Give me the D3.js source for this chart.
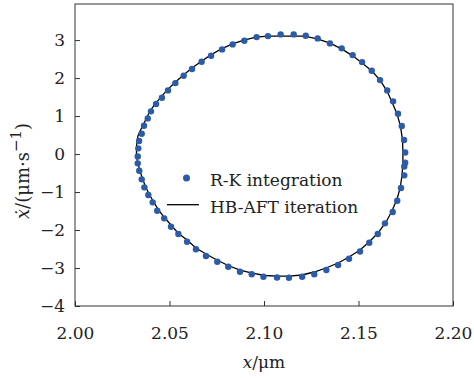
<!DOCTYPE html>
<html>
<head>
<meta charset="utf-8">
<script src="https://cdn.jsdelivr.net/npm/d3@7"></script>
<style>
  body { margin: 0; background: #fff; }
</style>
</head>
<body>
<div id="chart"></div>
<script>
// R-K integration samples (x in um, xdot in um/s)
const rkX = [2.0340, 2.0332, 2.0332, 2.0335, 2.0339, 2.0353, 2.0365, 2.0385, 2.0402, 2.0429,
  2.0460, 2.0492, 2.0531, 2.0575, 2.0619, 2.0670, 2.0720, 2.0778, 2.0834, 2.0896,
  2.0961, 2.1021, 2.1088, 2.1157, 2.1221, 2.1284, 2.1349, 2.1411, 2.1469, 2.1519,
  2.1570, 2.1614, 2.1652, 2.1683, 2.1709, 2.1729, 2.1741, 2.1747, 2.1747, 2.1742,
  2.1742, 2.1725, 2.1705, 2.1681, 2.1640, 2.1602, 2.1557, 2.1508, 2.1450, 2.1392,
  2.1330, 2.1266, 2.1202, 2.1132, 2.1069, 2.0997, 2.0935, 2.0873, 2.0811, 2.0753,
  2.0693, 2.0640, 2.0593, 2.0547, 2.0508, 2.0472, 2.0435, 2.0411, 2.0388, 2.0367,
  2.0353];
const rkV = [-0.439, -0.245, -0.066, 0.150, 0.342, 0.534, 0.745, 0.939, 1.124, 1.316,
  1.482, 1.676, 1.868, 2.061, 2.237, 2.429, 2.587, 2.755, 2.887, 2.982,
  3.079, 3.105, 3.150, 3.150, 3.113, 3.045, 2.913, 2.782, 2.605, 2.421,
  2.192, 1.947, 1.676, 1.387, 1.061, 0.737, 0.368, 0.039, -0.229, -0.329,
  -0.561, -0.895, -1.229, -1.526, -1.824, -2.105, -2.334, -2.566, -2.758, -2.921,
  -3.053, -3.163, -3.229, -3.255, -3.250, -3.229, -3.166, -3.097, -2.966, -2.834,
  -2.684, -2.508, -2.308, -2.105, -1.913, -1.692, -1.492, -1.271, -1.079, -0.876,
  -0.666];

// HB-AFT iteration orbit
const hbX = [2.0325, 2.0326, 2.0333, 2.0347, 2.0360, 2.0378, 2.0397, 2.0423, 2.0455, 2.0487,
  2.0526, 2.0571, 2.0616, 2.0667, 2.0717, 2.0775, 2.0833, 2.0894, 2.0958, 2.1021,
  2.1085, 2.1153, 2.1217, 2.1286, 2.1349, 2.1413, 2.1471, 2.1519, 2.1571, 2.1614,
  2.1651, 2.1677, 2.1704, 2.1722, 2.1733, 2.1735, 2.1735, 2.1730, 2.1720, 2.1704,
  2.1677, 2.1646, 2.1603, 2.1556, 2.1508, 2.1450, 2.1392, 2.1328, 2.1265, 2.1201,
  2.1132, 2.1069, 2.1005, 2.0937, 2.0873, 2.0810, 2.0751, 2.0693, 2.0640, 2.0593,
  2.0545, 2.0508, 2.0471, 2.0439, 2.0413, 2.0389, 2.0370, 2.0354, 2.0341, 2.0331];
const hbV = [-0.053, 0.237, 0.474, 0.632, 0.750, 0.947, 1.132, 1.316, 1.500, 1.684,
  1.868, 2.066, 2.250, 2.434, 2.605, 2.771, 2.900, 3.000, 3.079, 3.105,
  3.105, 3.105, 3.105, 3.026, 2.921, 2.763, 2.579, 2.395, 2.184, 1.947,
  1.658, 1.368, 1.053, 0.737, 0.368, 0.053, -0.237, -0.579, -0.895, -1.184,
  -1.500, -1.789, -2.079, -2.316, -2.526, -2.711, -2.868, -3.000, -3.105, -3.184,
  -3.211, -3.211, -3.197, -3.132, -3.053, -2.934, -2.789, -2.632, -2.474, -2.263,
  -2.079, -1.868, -1.658, -1.447, -1.237, -1.026, -0.816, -0.605, -0.395, -0.211];

const xTicks = [2.00, 2.05, 2.10, 2.15, 2.20];
const yTicks = [-4, -3, -2, -1, 0, 1, 2, 3];
const legendLabels = ["R-K integration", "HB-AFT iteration"];

const W = 474, H = 378;
const margin = { top: 4, right: 21, bottom: 72, left: 75 };
const iw = W - margin.left - margin.right;
const ih = H - margin.top - margin.bottom;
const dotColor = "#2c5ba8";
const serif = "DejaVu Serif";
const fs = 17;

const svg = d3.select("#chart").append("svg")
  .attr("width", W)
  .attr("height", H)
  .attr("font-family", serif);

const g = svg.append("g")
  .attr("transform", `translate(${margin.left},${margin.top})`);

const x = d3.scaleLinear().domain([2.00, 2.20]).range([0, iw]);
const y = d3.scaleLinear().domain([-4, 3.95]).range([ih, 0]);

// axes with inward ticks
const xAxis = g.append("g")
  .attr("transform", `translate(0,${ih})`)
  .call(d3.axisBottom(x).tickValues(xTicks).tickFormat(d3.format(".2f"))
    .tickSize(-5).tickPadding(21));
const yAxis = g.append("g")
  .call(d3.axisLeft(y).tickValues(yTicks).tickFormat(d3.format("d"))
    .tickSize(-5).tickPadding(10));

[xAxis, yAxis].forEach(a => {
  a.attr("font-family", serif).attr("font-size", fs);
  a.select(".domain").remove();
  a.selectAll("line").attr("stroke", "#333");
  a.selectAll("text").attr("fill", "#222");
});

// frame
g.append("rect")
  .attr("x", 0).attr("y", 0)
  .attr("width", iw).attr("height", ih)
  .attr("fill", "none")
  .attr("stroke", "#333")
  .attr("stroke-width", 1);

// HB-AFT line
const line = d3.line()
  .x(d => x(d[0]))
  .y(d => y(d[1]))
  .curve(d3.curveLinearClosed);

g.append("path")
  .datum(d3.zip(hbX, hbV))
  .attr("fill", "none")
  .attr("stroke", "#000")
  .attr("stroke-width", 1.3)
  .attr("d", line);

// R-K dots
g.append("g")
  .selectAll("circle")
  .data(d3.zip(rkX, rkV))
  .join("circle")
  .attr("cx", d => x(d[0]))
  .attr("cy", d => y(d[1]))
  .attr("r", 3.2)
  .attr("fill", dotColor);

// legend
const lg = svg.append("g").attr("transform", "translate(167,178)");
lg.append("circle")
  .attr("cx", 19.5).attr("cy", 0).attr("r", 3.5)
  .attr("fill", dotColor);
lg.append("line")
  .attr("x1", 0).attr("x2", 32)
  .attr("y1", 26.7).attr("y2", 26.7)
  .attr("stroke", "#000").attr("stroke-width", 1.3);
lg.selectAll("text.leg")
  .data(legendLabels)
  .join("text")
  .attr("class", "leg")
  .attr("x", 43)
  .attr("y", (d, i) => 8 + i * 26.7)
  .attr("font-size", fs)
  .attr("fill", "#222")
  .text(d => d);

// axis titles
const xt = svg.append("text")
  .attr("x", margin.left + iw / 2)
  .attr("y", 368)
  .attr("text-anchor", "middle")
  .attr("font-size", fs)
  .attr("fill", "#222");
xt.append("tspan").attr("font-style", "italic").text("x");
xt.append("tspan").text("/μm");

const yt = svg.append("text")
  .attr("transform", `translate(29,171) rotate(-90)`)
  .attr("text-anchor", "middle")
  .attr("font-size", 18)
  .attr("fill", "#222");
yt.append("tspan").attr("font-style", "italic").text("ẋ");
yt.append("tspan").text("/(μm·s");
yt.append("tspan").attr("dy", -8).attr("font-size", 15).text("−1");
yt.append("tspan").attr("dy", 8).text(")");
</script>
</body>
</html>
